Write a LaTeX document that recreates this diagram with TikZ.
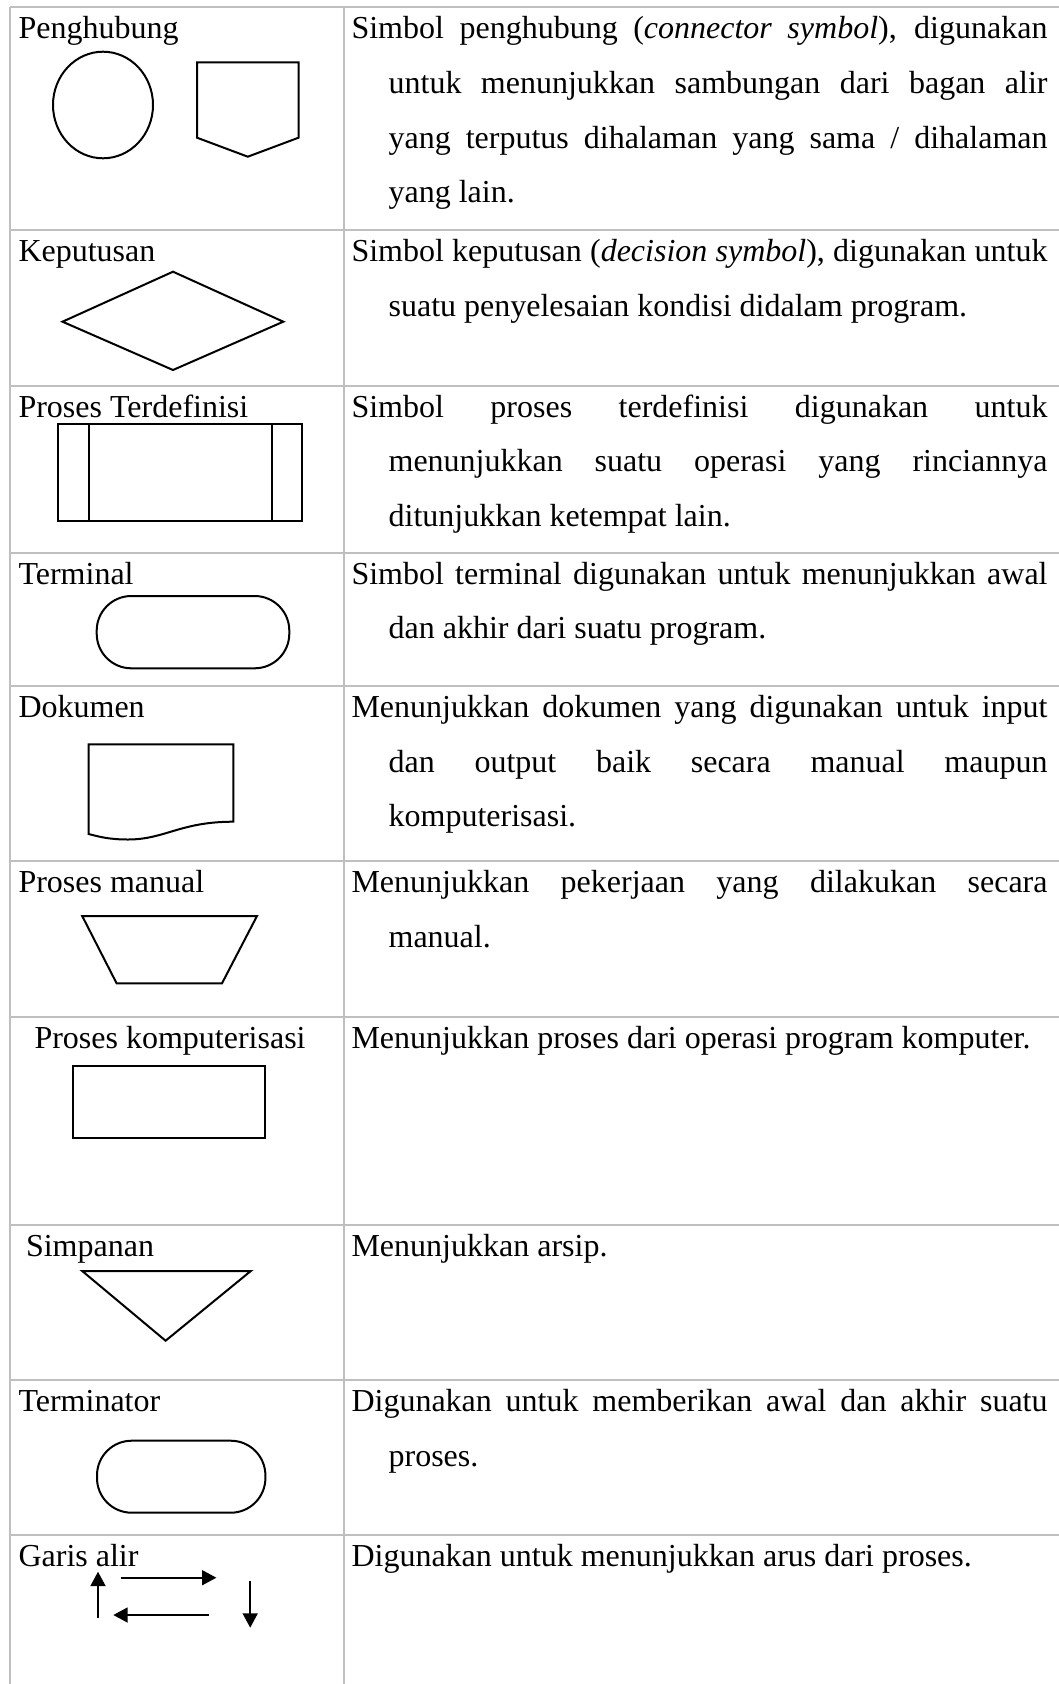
\documentclass[tikz,border=0pt]{standalone}
\usepackage{fontspec}
\setmainfont{Liberation Serif}
\usetikzlibrary{arrows.meta}
\definecolor{tablegray}{RGB}{191,191,191}

\begin{document}
\begin{tikzpicture}[x=0.375pt, y=-0.375pt,
	tableline/.style = {draw=tablegray, line width=0.75pt},
	shapeline/.style = {draw=black, line width=0.75pt},
	flowarrow/.style = {shapeline, -{Triangle[length=5.4pt, width=5.6pt]}},
	symname/.style = {anchor=base west, inner sep=0pt, font=\fontsize{12pt}{14pt}\selectfont},
	desc/.style = {anchor=base west, inner sep=0pt, text width=261pt, align=justify, font=\fontsize{12pt}{20.5pt}\selectfont}]
	
	\fill[white] (0,0) rectangle (1059,1684);
	\useasboundingbox (0,0) rectangle (1059,1684);
	
	% table
	\draw[tableline] (10,7.3) -- (1059,7.3) (10,230) -- (1059,230) (10,385.5) -- (1059,385.5)
		(10,552.5) -- (1059,552.5) (10,686) -- (1059,686) (10,861) -- (1059,861)
		(10,1017) -- (1059,1017) (10,1225) -- (1059,1225) (10,1380) -- (1059,1380)
		(10,1535) -- (1059,1535);
	\draw[tableline] (10,7.3) -- (10,1684) (343.8,7.3) -- (343.8,1684);
	
	% left column
	\node[symname] (penghubung) at (18,39) {Penghubung};
	\node[symname] (keputusan) at (18,261.5) {Keputusan};
	\node[symname] (terdefinisi) at (18,417) {Proses Terdefinisi};
	\node[symname] (terminal) at (18,584) {Terminal};
	\node[symname] (dokumen) at (18,717.5) {Dokumen};
	\node[symname] (manual) at (18,892.5) {Proses manual};
	\node[symname] (komputer) at (34,1048.5) {Proses komputerisasi};
	\node[symname] (simpanan) at (25.5,1256.5) {Simpanan};
	\node[symname] (terminator) at (18,1411.5) {Terminator};
	\node[symname] (garis) at (18,1566.5) {Garis alir};
	
	% symbols
	\draw[shapeline] (103,105) ellipse [x radius=50, y radius=53.3];
	\draw[shapeline] (197,62.3) -- (298.5,62.3) -- (298.5,137.7) -- (247.8,156.7) -- (197,137.7) -- cycle;
	\draw[shapeline] (62.5,321.7) -- (173,271.7) -- (283.3,321.7) -- (173,370) -- cycle;
	\draw[shapeline] (58.3,424) rectangle (302.3,520.7);
	\draw[shapeline] (89,424) -- (89,520.7) (271.7,424) -- (271.7,520.7);
	\draw[shapeline, rounded corners=13pt] (96.7,596) rectangle (289.3,668.3);
	\draw[shapeline] (233.3,821.7) -- (233.3,744.3) -- (88.6,744.3) -- (88.6,834)
		.. controls (100,837) and (110,839.5) .. (128,839.5)
		.. controls (165,839.5) and (180,821.7) .. cycle;
	\draw[shapeline] (82.2,916) -- (257,916) -- (222,983.3) -- (116.6,983.3) -- cycle;
	\draw[shapeline] (72.7,1066) rectangle (265.4,1137.7);
	\draw[shapeline] (82.2,1271) -- (250.8,1271) -- (165.6,1340.7) -- cycle;
	\draw[shapeline, rounded corners=13pt] (97,1440.7) rectangle (265.4,1512.7);
	
	\coordinate (upS) at (98,1618.3);
	\coordinate (upE) at (98,1571.7);
	\coordinate (rtS) at (121,1577.7);
	\coordinate (rtE) at (216.4,1577.7);
	\coordinate (ltS) at (208.6,1615);
	\coordinate (ltE) at (113.3,1615);
	\coordinate (dnS) at (250.2,1581);
	\coordinate (dnE) at (250.2,1627.7);
	\draw[flowarrow] (upS) -- (upE);
	\draw[flowarrow] (rtS) -- (rtE);
	\draw[flowarrow] (ltS) -- (ltE);
	\draw[flowarrow] (dnS) -- (dnE);
	
	% right column
	\node[desc] (d1) at (351,39) {\hangindent=13.9pt\hangafter=1 Simbol penghubung (\textit{connector symbol}), digunakan\linebreak untuk menunjukkan sambungan dari bagan alir\linebreak yang terputus dihalaman yang sama / dihalaman\linebreak yang lain.\par};
	\node[desc] (d2) at (351,261.5) {\hangindent=13.9pt\hangafter=1 Simbol keputusan (\textit{decision symbol}), digunakan untuk\linebreak suatu penyelesaian kondisi didalam program.\par};
	\node[desc] (d3) at (351,417) {\hangindent=13.9pt\hangafter=1 Simbol proses terdefinisi digunakan untuk\linebreak menunjukkan suatu operasi yang rinciannya\linebreak ditunjukkan ketempat lain.\par};
	\node[desc] (d4) at (351,584) {\hangindent=13.9pt\hangafter=1 Simbol terminal digunakan untuk menunjukkan awal\linebreak dan akhir dari suatu program.\par};
	\node[desc] (d5) at (351,717.5) {\hangindent=13.9pt\hangafter=1 Menunjukkan dokumen yang digunakan untuk input\linebreak dan output baik secara manual maupun\linebreak komputerisasi.\par};
	\node[desc] (d6) at (351,892.5) {\hangindent=13.9pt\hangafter=1 Menunjukkan pekerjaan yang dilakukan secara\linebreak manual.\par};
	\node[desc] (d7) at (351,1048.5) {Menunjukkan proses dari operasi program komputer.};
	\node[desc] (d8) at (351,1256.5) {Menunjukkan arsip.};
	\node[desc] (d9) at (351,1411.5) {\hangindent=13.9pt\hangafter=1 Digunakan untuk memberikan awal dan akhir suatu\linebreak proses.\par};
	\node[desc] (d10) at (351,1566.5) {Digunakan untuk menunjukkan arus dari proses.};
	
\end{tikzpicture}
\end{document}
